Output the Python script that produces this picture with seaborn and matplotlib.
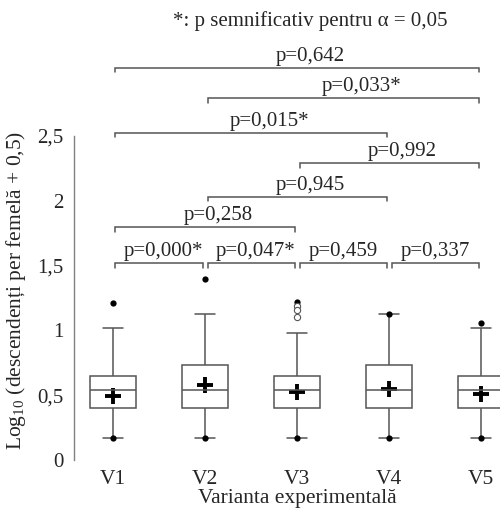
import numpy as np
import pandas as pd
import matplotlib
matplotlib.use("Agg")
import matplotlib.pyplot as plt
import seaborn as sns

# Values (log10 scale)
groups = ["V1", "V2", "V3", "V4", "V5"]
whisker_low = [0.172, 0.172, 0.172, 0.172, 0.172]
q1 = [0.40, 0.40, 0.40, 0.40, 0.40]
medians = [0.54, 0.54, 0.54, 0.54, 0.54]
q3 = [0.648, 0.733, 0.648, 0.733, 0.648]
whisker_high = [1.02, 1.127, 0.977, 1.127, 1.02]
means = [0.49, 0.579, 0.527, 0.55, 0.513]
minimum = [0.172, 0.172, 0.172, 0.172, 0.172]
maximum = [1.21, 1.397, 1.218, 1.127, 1.06]
outlier_groups = ["V3", "V3", "V3"]
outlier_values = [1.19, 1.16, 1.10]

# pairwise comparisons
pairs = [(0, 1), (1, 2), (2, 3), (3, 4), (0, 2), (1, 3), (2, 4), (0, 3), (1, 4), (0, 4)]
bracket_heights = [1.517, 1.517, 1.517, 1.517, 1.795, 2.03, 2.29, 2.525, 2.79, 3.027]
p_labels = ["p=0,000*", "p=0,047*", "p=0,459", "p=0,337", "p=0,258",
            "p=0,945", "p=0,992", "p=0,015*", "p=0,033*", "p=0,642"]

sns.set_style("white")
plt.rcParams["font.family"] = ["Liberation Serif", "DejaVu Serif"]
plt.rcParams["mathtext.fontset"] = "custom"
plt.rcParams["mathtext.rm"] = "Liberation Serif"

# five numbers per group -> exact quartiles with n=5
rows = []
for g, a, b, c, d, e in zip(groups, whisker_low, q1, medians, q3, whisker_high):
    for v in (a, b, c, d, e):
        rows.append({"group": g, "value": v})
box_df = pd.DataFrame(rows)

fig = plt.figure(figsize=(5, 5.14), dpi=100)
ax = fig.add_axes([74.3 / 500, 54 / 514, 1 - 74.3 / 500, (460 - 32.3) / 514])

gray = "#555555"
fs = 15
sns.boxplot(data=box_df, x="group", y="value", order=groups, whis=(0, 100),
            width=0.5, color="white", linecolor=gray, linewidth=1.1,
            showfliers=False, capwidths=0.22, ax=ax)

# min / max markers
sns.stripplot(x=groups + groups, y=minimum + maximum, order=groups, jitter=False,
              color="black", size=4.5, ax=ax)
# other outliers (open circles)
sns.stripplot(x=outlier_groups, y=outlier_values, order=groups, jitter=False,
              color="white", edgecolor=gray, linewidth=0.8, size=4.5, ax=ax)
# means
sns.pointplot(x=groups, y=means, order=groups, linestyle="none", marker="+",
              markersize=12, markeredgewidth=2.8, color="black", errorbar=None, ax=ax)

# significance brackets
drop = 0.035
for (i, j), h, lab in zip(pairs, bracket_heights, p_labels):
    x0, x1 = i + 0.03, j - 0.02
    ax.plot([x0, x0, x1, x1], [h - drop, h, h, h - drop], color=gray, lw=1.1,
            solid_joinstyle="miter")
    tx = (i + j) / 2 + (0.15 if j - i > 1 else 0) + (0.05 if lab.endswith("*") else 0)
    ax.text(tx, h + 0.015, lab, ha="center", va="bottom", fontsize=fs)

fig.text(310 / 500, 1 - 21 / 514, "*: p semnificativ pentru α = 0,05",
         ha="center", va="center", fontsize=fs)

ax.set_xlim(-0.417, 4.207)
ax.set_ylim(0, 3.3)
ax.set_yticks([0, 0.5, 1, 1.5, 2, 2.5])
ax.set_yticklabels(["0", "0,5", "1", "1,5", "2", "2,5"])
ax.tick_params(axis="y", direction="inout", length=10, width=1, color="#808080",
               labelsize=fs, pad=3)
ax.tick_params(axis="x", length=0, labelsize=15.5, pad=7)
for s in ["top", "right", "bottom"]:
    ax.spines[s].set_visible(False)
ax.spines["left"].set_bounds(0, 2.5)
ax.spines["left"].set_color("#808080")
ax.spines["left"].set_linewidth(1)

ax.set_xlabel("")
ax.set_ylabel("")
fig.text(297 / 500, 1 - 499 / 514, "Varianta experimentală", ha="center",
         va="center", fontsize=15.5)
fig.text(16 / 500, 1 - 290 / 514,
         r"Log$_{\mathrm{10}}$ (descendenți per femelă + 0,5)",
         ha="center", va="center", rotation=90, fontsize=15.5)

fig.savefig("out.png", dpi=100)
